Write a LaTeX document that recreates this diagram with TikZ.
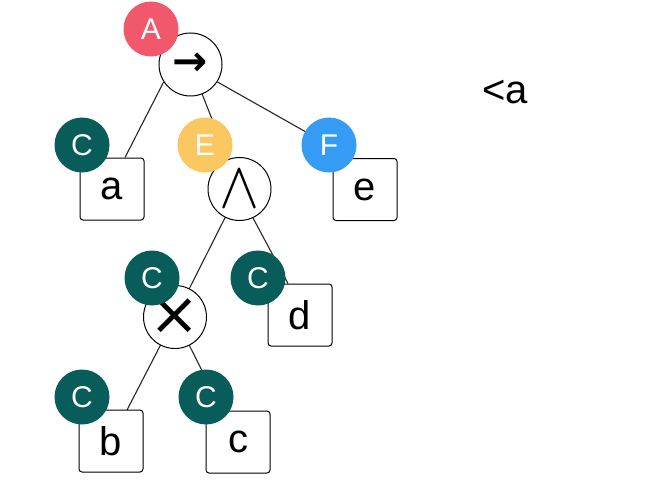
\documentclass[tikz,border=0pt]{standalone}
\usepackage{fontspec}
\setmainfont{Liberation Sans}
\newfontfamily\symfont{DejaVu Sans}
\usetikzlibrary{backgrounds}
\definecolor{badgeA}{RGB}{242,88,108}
\definecolor{badgeC}{RGB}{8,92,90}
\definecolor{badgeE}{RGB}{250,199,96}
\definecolor{badgeF}{RGB}{54,155,245}
\begin{document}
\begin{tikzpicture}[x=1pt,y=-1pt,
  opnode/.style={circle,draw=black,line width=1pt,fill=white,minimum size=63pt,inner sep=0pt},
  leaf/.style={rectangle,rounded corners=3pt,draw=black,line width=1pt,fill=white,
    minimum width=64pt,minimum height=62pt,inner sep=0pt,font=\fontsize{40}{40}\selectfont},
  badge/.style={circle,minimum size=55pt,inner sep=0pt,text=white,font=\fontsize{30}{30}\selectfont},
  edge/.style={line width=1.1pt,draw=black!85}]
\useasboundingbox (0,0) rectangle (650,500);
% operator circles
\node[opnode,font=\symfont\bfseries\fontsize{42}{42}\selectfont] (root) at (190.5,64.5) {→};
\node[opnode] (and) at (239.5,189) {\scalebox{6}[6.6]{$\wedge$}};
\node[opnode,font=\symfont\fontsize{60}{60}\selectfont] (times) at (175,317) {×};
% leaves
\node[leaf] (a) at (112,189) {a};
\node[leaf] (e) at (365,189.5) {e};
\node[leaf] (d) at (300,315) {d};
\node[leaf] (b) at (111,441) {b};
\node[leaf] (c) at (238,442) {c};
% badges
\node[badge,fill=badgeA] (bA) at (151,29) {A};
\node[badge,fill=badgeC] (bCa) at (82,145) {C};
\node[badge,fill=badgeE] (bE) at (205,145) {E};
\node[badge,fill=badgeF] (bF) at (329,145) {F};
\node[badge,fill=badgeC] (bCx) at (152,278) {C};
\node[badge,fill=badgeC] (bCd) at (258,278) {C};
\node[badge,fill=badgeC] (bCb) at (82,397) {C};
\node[badge,fill=badgeC] (bCc) at (206,397) {C};
% free text
\node[font=\fontsize{40}{40}\selectfont] (lbl) at (505,92) {<a};
% edges
\begin{scope}[on background layer]
\draw[edge] (root.213) -- ([xshift=13pt]a.north);
\draw[edge] (root.center) -- (and.center);
\draw[edge] (root.327.5) -- (bF.center);
\draw[edge] (and.center) -- (times.center);
\draw[edge] (and.295) -- ([xshift=-12pt]d.north);
\draw[edge] (times.center) -- (b.center);
\draw[edge] (times.center) -- (c.center);
\end{scope}
\end{tikzpicture}
\end{document}
